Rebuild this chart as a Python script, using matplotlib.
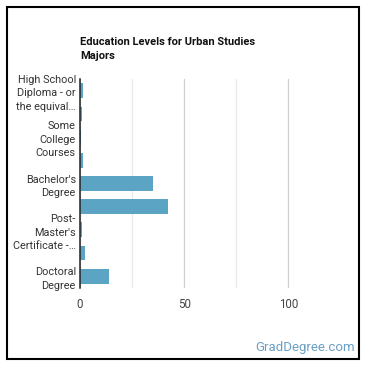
import matplotlib.pyplot as plt
import matplotlib.patches as patches
import numpy as np

plt.rcParams['font.family'] = ['Roboto', 'DejaVu Sans']

# education levels, top to bottom
categories = [
    "High School Diploma - or the equivalent",
    "Post-Secondary Certificate",
    "Some College Courses",
    "Associate's Degree",
    "Bachelor's Degree",
    "Master's Degree",
    "Post-Master's Certificate",
    "First Professional Degree",
    "Doctoral Degree",
]
percent = [1.3, 1.2, 0.3, 1.6, 35.2, 42.5, 1.1, 2.5, 14.1]

# only every other category gets a label in the original
tick_labels = [
    "High School\nDiploma - or\nthe equival\u2026",
    "Some\nCollege\nCourses",
    "Bachelor's\nDegree",
    "Post-\nMaster's\nCertificate -\u2026",
    "Doctoral\nDegree",
]
x_ticks = [0, 50, 100]

fig = plt.figure(figsize=(3.7, 3.7), dpi=100)
ax = fig.add_axes([0.216, 0.222, 0.687, 0.564])

y = np.arange(len(categories))
ax.barh(y, percent, height=0.64, color='#5ca4c4', zorder=3)

ax.set_ylim(len(categories) - 0.5, -0.5)
ax.set_xlim(0, 122)

ax.set_yticks(y[::2])
ax.set_yticklabels(tick_labels, fontsize=7.8, color='#333333', linespacing=1.42)
ax.set_xticks(x_ticks)
ax.set_xticklabels([str(v) for v in x_ticks], fontsize=8.3, color='#444444')
ax.tick_params(axis='both', length=0)
ax.tick_params(axis='y', pad=3)
ax.tick_params(axis='x', pad=7)

for v in x_ticks:
    ax.axvline(v, color='#d0d0d0', lw=0.9, zorder=1)
for v in [25, 75]:
    ax.axvline(v, color='#e8e8e8', lw=0.9, zorder=1)

for s in ['top', 'right', 'bottom']:
    ax.spines[s].set_visible(False)
ax.spines['left'].set_color('#222222')
ax.spines['left'].set_linewidth(1.1)
ax.spines['left'].set_zorder(4)

fig.text(80 / 370, 1 - 49 / 370, "Education Levels for Urban Studies\nMajors",
         fontsize=8.0, fontweight='bold', color='#111111', va='center', ha='left',
         linespacing=1.45)

fig.text(355 / 370, 1 - 348 / 370, "GradDegree.com", fontsize=9.5,
         color='#6a9fc4', ha='right', va='center')

# frame around the whole image
fig.patches.append(patches.Rectangle((7 / 370, 11 / 370), 352 / 370, 352 / 370,
                                     transform=fig.transFigure, fill=False,
                                     edgecolor='black', lw=1.5))

fig.savefig('out.png', dpi=100)
